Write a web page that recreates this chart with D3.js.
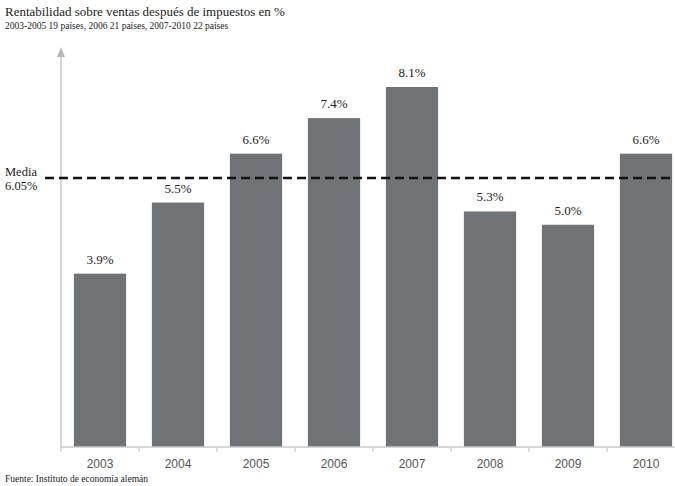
<!DOCTYPE html>
<html>
<head>
<meta charset="utf-8">
<script src="https://cdn.jsdelivr.net/npm/d3@7"></script>
<style>
  html, body { margin: 0; padding: 0; background: #fff; }
  svg { display: block; }
</style>
</head>
<body>
<script>
// Rentabilidad sobre ventas después de impuestos, por año
const years = ["2003", "2004", "2005", "2006", "2007", "2008", "2009", "2010"];
const values = [3.9, 5.5, 6.6, 7.4, 8.1, 5.3, 5.0, 6.6];
const media = 6.05;
const titleText = "Rentabilidad sobre ventas después de impuestos en %";
const subtitleText = "2003-2005 19 países, 2006 21 países, 2007-2010 22 países";
const sourceText = "Fuente: Instituto de economía alemán";

const W = 675, H = 486;
const serif = "'Liberation Serif', 'Times New Roman', serif";
const sans = "'Liberation Sans', Arial, sans-serif";

const svg = d3.select("body").append("svg")
  .attr("width", W).attr("height", H);

const x = d3.scaleBand()
  .domain(years)
  .range([61, 685])
  .paddingInner(0.33)
  .paddingOuter(0.165);

const y = d3.scaleLinear().domain([0, 9]).range([447, 47]);

const step = x.step();
const half = step * x.paddingInner() / 2;

// Titles
svg.append("text").attr("x", 5).attr("y", 16)
  .attr("font-family", serif).attr("font-size", 13).attr("fill", "#222")
  .text(titleText);
svg.append("text").attr("x", 5).attr("y", 29)
  .attr("font-family", serif).attr("font-size", 9.5).attr("fill", "#222")
  .text(subtitleText);

// Bars
svg.append("g").selectAll("rect").data(values).join("rect")
  .attr("x", (d, i) => x(years[i]))
  .attr("width", x.bandwidth())
  .attr("y", d => y(d))
  .attr("height", d => y(0) - y(d))
  .attr("fill", "#707375");

// Value labels
svg.append("g").selectAll("text").data(values).join("text")
  .attr("x", (d, i) => x(years[i]) + x.bandwidth() / 2)
  .attr("y", d => y(d) - 10)
  .attr("text-anchor", "middle")
  .attr("font-family", serif).attr("font-size", 13).attr("fill", "#222")
  .text(d => d.toFixed(1) + "%");

// Y axis with arrow head
const axisColor = "#c8c8c8";
svg.append("line")
  .attr("x1", 61).attr("x2", 61)
  .attr("y1", 56).attr("y2", 447)
  .attr("stroke", axisColor).attr("stroke-width", 1.5);
svg.append("path")
  .attr("d", "M61,47 L57,57 L65,57 Z")
  .attr("fill", "#b8b8b8");

// X axis with ticks at band boundaries
svg.append("line")
  .attr("x1", 61).attr("x2", W)
  .attr("y1", 447).attr("y2", 447)
  .attr("stroke", axisColor).attr("stroke-width", 1.5);
const boundaries = years.map(d => x(d) - half).concat([x(years[years.length - 1]) + x.bandwidth() + half]);
svg.append("g").selectAll("line").data(boundaries).join("line")
  .attr("x1", d => d).attr("x2", d => d)
  .attr("y1", 447).attr("y2", 452)
  .attr("stroke", axisColor).attr("stroke-width", 1.2);

svg.append("g").selectAll("text").data(years).join("text")
  .attr("x", d => x(d) + x.bandwidth() / 2)
  .attr("y", 468)
  .attr("text-anchor", "middle")
  .attr("font-family", sans).attr("font-size", 12).attr("fill", "#555")
  .text(d => d);

// Average line
svg.append("line")
  .attr("x1", 45).attr("x2", W)
  .attr("y1", y(media)).attr("y2", y(media))
  .attr("stroke", "#111").attr("stroke-width", 2.5)
  .attr("stroke-dasharray", "9,5");

svg.append("text").attr("x", 5).attr("y", 176)
  .attr("font-family", serif).attr("font-size", 12.5).attr("fill", "#222")
  .text("Media");
svg.append("text").attr("x", 5).attr("y", 190)
  .attr("font-family", serif).attr("font-size", 12.5).attr("fill", "#222")
  .text(media.toFixed(2) + "%");

// Source
svg.append("text").attr("x", 5).attr("y", 482)
  .attr("font-family", serif).attr("font-size", 9.5).attr("fill", "#222")
  .text(sourceText);
</script>
</body>
</html>
